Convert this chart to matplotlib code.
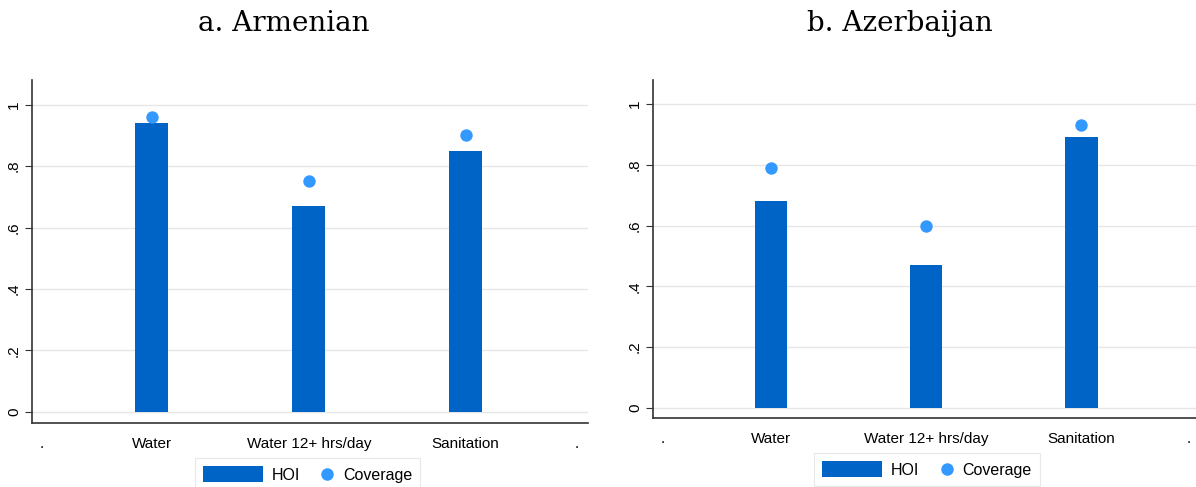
import matplotlib.pyplot as plt
from matplotlib.patches import Patch
from matplotlib.lines import Line2D
from matplotlib.legend_handler import HandlerBase

plt.rcParams["font.family"] = "Liberation Sans"

categories = ["Water", "Water 12+ hrs/day", "Sanitation"]
arm_hoi = [0.94, 0.67, 0.85]
arm_cov = [0.96, 0.75, 0.90]
aze_hoi = [0.68, 0.47, 0.89]
aze_cov = [0.79, 0.60, 0.93]

bar_color = "#0063c6"
dot_color = "#3399ff"
xpos = [1, 2, 3]


class DotHandler(HandlerBase):
    # put the marker at the right end of the handle box (Stata-like legend)
    def create_artists(self, legend, orig_handle, xdescent, ydescent,
                       width, height, fontsize, trans):
        x = width - xdescent - 0.45 * height
        y = height / 2 - ydescent
        m = Line2D([x], [y], marker="o", linestyle="none", markersize=9,
                   markerfacecolor=dot_color, markeredgewidth=0)
        m.set_transform(trans)
        return [m]


fig = plt.figure(figsize=(11.96, 4.87), dpi=100)
ax1 = fig.add_axes([0.0268, 0.1314, 0.4649, 0.7043])
ax2 = fig.add_axes([0.546, 0.1417, 0.454, 0.694])


def draw(ax, hoi, cov, title, title_x, xlim, ylim, dots, leg_center):
    ax.bar(xpos, hoi, width=0.21, color=bar_color, zorder=2)
    ax.scatter(xpos, cov, s=80, color=dot_color, zorder=3, linewidths=0)
    ax.set_xlim(*xlim)
    ax.set_ylim(*ylim)
    ax.set_xticks([dots[0]] + xpos + [dots[1]])
    ax.set_xticklabels(["."] + categories + ["."], fontsize=11)
    ax.set_yticks([0, 0.2, 0.4, 0.6, 0.8, 1.0])
    ax.set_yticklabels(["0", ".2", ".4", ".6", ".8", "1"], rotation=90,
                       va="center", fontsize=11)
    ax.grid(axis="y", color="#e6e6e6", linewidth=1, zorder=0)
    ax.tick_params(axis="x", length=0, pad=10)
    ax.tick_params(axis="y", length=5, color="#333333", pad=3)
    for s in ["top", "right"]:
        ax.spines[s].set_visible(False)
    for s in ["left", "bottom"]:
        ax.spines[s].set_color("#333333")
        ax.spines[s].set_linewidth(1.2)
    fig.text(title_x, 0.936, title, fontsize=20, family="DejaVu Serif",
             ha="center", va="baseline")
    hoi_h = Patch(facecolor=bar_color, label="HOI")
    cov_h = Line2D([], [], marker="o", linestyle="none", label="Coverage")
    leg = ax.legend(handles=[hoi_h, cov_h], loc="center",
                    bbox_to_anchor=leg_center, bbox_transform=fig.transFigure,
                    ncol=2, frameon=True, fancybox=False, fontsize=11.5,
                    handlelength=3.75, handleheight=1.1, handletextpad=0.56,
                    columnspacing=-1.6, borderpad=0.5,
                    handler_map={Line2D: DotHandler()})
    leg.get_frame().set_edgecolor("#e3e3e3")
    leg.get_frame().set_linewidth(0.8)


draw(ax1, arm_hoi, arm_cov, "a. Armenian", 0.2375, (0.236, 3.78),
     (-0.036, 1.08), (0.30, 3.71), (0.2571, 0.0257))
draw(ax2, aze_hoi, aze_cov, "b. Azerbaijan", 0.7525, (0.239, 3.74),
     (-0.033, 1.079), (0.303, 3.69), (0.7751, 0.0359))

fig.savefig("out.png", dpi=100)
